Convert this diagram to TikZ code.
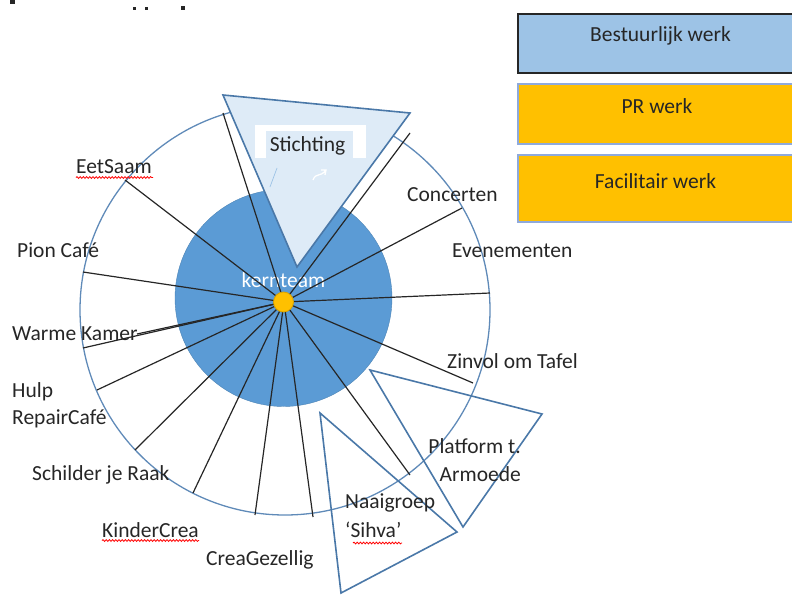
\documentclass[tikz,border=0pt]{standalone}
\usepackage{fontspec}
\setmainfont{Carlito}
\usetikzlibrary{decorations.pathmorphing}
\definecolor{discblue}{HTML}{5B9BD5}
\definecolor{ringblue}{HTML}{5F8AB8}
\definecolor{triblue}{HTML}{4A78A8}
\definecolor{trifill}{HTML}{DEEBF7}
\definecolor{legblue}{HTML}{9DC3E6}
\definecolor{leggold}{HTML}{FFC000}
\definecolor{legedge}{HTML}{8FAADC}
\definecolor{dotedge}{HTML}{D9A300}
\definecolor{txt}{HTML}{262626}
\begin{document}
\begin{tikzpicture}[x=1pt,y=-1pt,
  lbl/.style={font=\fontsize{21.5pt}{28pt}\selectfont, inner sep=0pt, text=txt},
  spoke/.style={draw=txt, line width=1.2pt},
  tri/.style={draw=triblue, line width=1.6pt, line join=miter},
  legbox/.style={rectangle, anchor=north west, inner sep=0pt, outer sep=0pt, minimum width=290pt, line width=1.3pt},
  squiggle/.style={draw=red, line width=0.8pt, decorate, decoration={snake, amplitude=0.9pt, segment length=3.2pt}}]
\useasboundingbox (0,0) rectangle (792,594);
% cut-off marks at the top
\fill[txt] (10,0) rectangle (14.5,4);
\fill[txt] (132.5,7) rectangle (136,10);
\fill[txt] (144.5,7) rectangle (148,10);
\fill[txt] (180.5,6.5) rectangle (185,10);
% outer ring and inner disc
\node[circle, draw=ringblue, line width=1.3pt, minimum size=410pt, inner sep=0pt, outer sep=0pt] (ring) at (285,310) {};
\node[circle, fill=discblue, draw=discblue!85!black, line width=0.4pt, minimum size=217pt, inner sep=0pt] (disc) at (283.5,298) {};
\node[lbl, text=white, anchor=base] (kern) at (283.5,287) {kernteam};
% Stichting triangle
\coordinate (s1) at (223,95);
\coordinate (s2) at (410,113);
\coordinate (s3) at (297,267);
\filldraw[tri, fill=trifill] (s1) -- (s2) -- (s3) -- cycle;
\node[fill=white, minimum width=111pt, minimum height=33pt, inner sep=0pt] (sbox) at (310.5,141.5) {};
\node[fill=trifill, minimum width=87.5pt, minimum height=27.5pt, inner sep=0pt] (shl) at (309.5,144.5) {};
\node[lbl, anchor=base] (stichting) at (307.5,151) {Stichting};
\coordinate (m1) at (270,187);
\coordinate (m2) at (277,168);
\draw[legblue, line width=0.7pt] (m1) -- (m2);
\coordinate (w1) at (313,180);
\coordinate (w2) at (326,170);
\draw[white, line width=1.3pt] (w1) .. controls (316,172) and (320,178) .. (w2) (321,170) -- (w2) -- (325,175);
% spokes
\coordinate (e1) at (223,113);
\coordinate (e2) at (410,133);
\coordinate (e3) at (462,208);
\coordinate (e4) at (490,293);
\coordinate (e5) at (473,383);
\coordinate (e6) at (410,475);
\coordinate (e7) at (313,517);
\coordinate (e8) at (255,515);
\coordinate (e9) at (193,493);
\coordinate (e10) at (135,450);
\coordinate (e11) at (97,390);
\coordinate (e12) at (83,348);
\coordinate (e13) at (137,334);
\coordinate (e14) at (83,272);
\coordinate (e15) at (125,180);
\node[circle, inner sep=0pt, minimum size=0pt] (c) at (284,302) {};
\foreach \i in {1,...,15} {\draw[spoke] (c.center) -- (e\i);}
\node[circle, fill=leggold, draw=dotedge, line width=0.8pt, minimum size=20pt, inner sep=0pt] (dot) at (283.5,302) {};
% other triangles
\coordinate (p1) at (370,370);
\coordinate (p2) at (542,414);
\coordinate (p3) at (463,527);
\draw[tri] (p1) -- (p2) -- (p3) -- cycle;
\coordinate (n1) at (320,413);
\coordinate (n2) at (457,532);
\coordinate (n3) at (341,593);
\draw[tri] (n1) -- (n2) -- (n3) -- cycle;
% labels
\node[lbl, anchor=base west] (eetsaam) at (76,173) {EetSaam};
\node[lbl, anchor=base west] (pion) at (17,257) {Pion Café};
\node[lbl, anchor=base west] (warme) at (12,340) {Warme Kamer};
\node[lbl, anchor=base west, align=left, font=\fontsize{21.5pt}{27pt}\selectfont] (hulp) at (12,424) {Hulp\\RepairCafé};
\node[lbl, anchor=base west] (schilder) at (32,480) {Schilder je Raak};
\node[lbl, anchor=base west] (kinder) at (102,537) {KinderCrea};
\node[lbl, anchor=base west] (crea) at (206,565) {CreaGezellig};
\node[lbl, anchor=base west, align=left, font=\fontsize{21.5pt}{29pt}\selectfont] (naai) at (345,537) {Naaigroep\\‘Sihva’};
\node[lbl, anchor=base east, align=right] (platform) at (521,481) {Platform t.\\Armoede};
\node[lbl, anchor=base west] (zinvol) at (447,368) {Zinvol om Tafel};
\node[lbl, anchor=base west] (even) at (452,257) {Evenementen};
\node[lbl, anchor=base west] (conc) at (407,201) {Concerten};
% spell-check underlines
\coordinate (u1a) at (76,177.5); \coordinate (u1b) at (153,177.5);
\coordinate (u2a) at (102,540.5); \coordinate (u2b) at (199,540.5);
\coordinate (u3a) at (353,543); \coordinate (u3b) at (402,543);
\draw[squiggle] (u1a) -- (u1b);
\draw[squiggle] (u2a) -- (u2b);
\draw[squiggle] (u3a) -- (u3b);
% legend
\node[legbox, draw=txt, fill=legblue, minimum height=59pt] (b1) at (518,14) {};
\node[legbox, draw=legedge, fill=leggold, minimum height=60pt] (b2) at (518,84) {};
\node[legbox, draw=legedge, fill=leggold, minimum height=67pt] (b3) at (518,155) {};
\node[lbl, anchor=base] (t1) at (660.5,42) {Bestuurlijk werk};
\node[lbl, anchor=base] (t2) at (657,113) {PR werk};
\node[lbl, anchor=base] (t3) at (655.5,188) {Facilitair werk};
\end{tikzpicture}
\end{document}
